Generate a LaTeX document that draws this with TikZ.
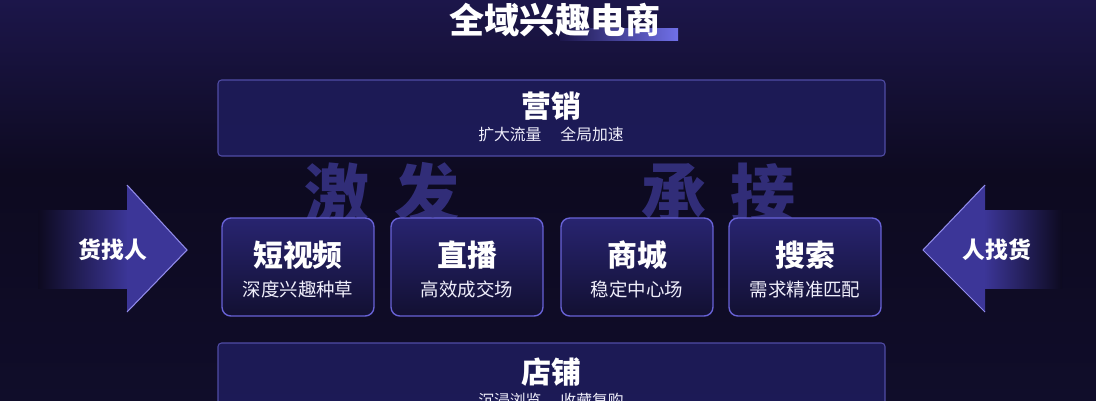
\documentclass[tikz,border=0pt]{standalone}
\usepackage{fontspec}
\setmainfont{Noto Sans CJK SC}
\usetikzlibrary{positioning}
\definecolor{bgtop}{RGB}{28,22,74}
\definecolor{bgmid}{RGB}{13,10,32}
\definecolor{bgbot}{RGB}{16,13,42}
\definecolor{boxfill}{RGB}{28,26,86}
\definecolor{boxline}{RGB}{80,76,165}
\definecolor{cardtop}{RGB}{40,36,112}
\definecolor{cardbot}{RGB}{18,16,50}
\definecolor{cardline}{RGB}{104,98,214}
\definecolor{arrowfill}{RGB}{60,54,152}
\definecolor{arrowline}{RGB}{146,140,235}
\definecolor{markcol}{RGB}{62,58,150}
\definecolor{barend}{RGB}{112,112,232}
\tikzset{
	bigbox/.style={draw=boxline,line width=0.6pt,rounded corners=2pt,top color=boxfill!90!bgtop,bottom color=boxfill},
	card/.style={draw=cardline,line width=0.8pt,rounded corners=5pt,top color=cardtop,bottom color=cardbot,minimum width=3.04cm,minimum height=1.96cm,inner sep=0pt},
	headtxt/.style={text=white,font=\bfseries\fontsize{17}{17}\selectfont,inner sep=0pt},
	subtxt/.style={text=white!90!cardline,font=\fontsize{9}{9}\selectfont,inner sep=0pt},
	cardsub/.style={text=white!90!cardline,font=\fontsize{10.5}{10.5}\selectfont,inner sep=0pt},
	arrowtxt/.style={text=white,font=\bfseries\fontsize{13}{13}\selectfont,inner sep=0pt},
	marktxt/.style={text=markcol,opacity=0.75,font=\bfseries\fontsize{37}{37}\selectfont,inner sep=0pt}
}
\begin{document}
\begin{tikzpicture}[x=0.02cm,y=-0.02cm]
		\useasboundingbox (0,0) rectangle (1096,400);
		% background
		\shade[top color=bgtop,bottom color=bgmid] (0,0) rectangle (1096,175);
		\shade[top color=bgmid,bottom color=bgbot] (0,175) rectangle (1096,400);
		% title with bar
		\shade[left color=bgtop,right color=barend] (560,28) rectangle (678,40);
		\node[text=white,font=\bfseries\fontsize{20}{20}\selectfont,inner sep=0pt] (title) at (555,20) {全域兴趣电商};
		% watermark
		\foreach \ch/\px in {激/337,发/427,承/674,接/763}
		\node[marktxt] at (\px,194) {\ch};
		% marketing and shop boxes
		\draw[bigbox] (218,80) rectangle (885,156);
		\node[headtxt] (yx) at (551,106) {营销};
		\node[subtxt] (yxsub) at (551,134) {扩大流量\hspace{1.2em}全局加速};
		\draw[bigbox] (218,343) rectangle (885,430);
		\node[headtxt] (dp) at (551,372) {店铺};
		\node[subtxt] (dpsub) at (551,400) {沉浸浏览\hspace{1.2em}收藏复购};
		% four channel cards
		\foreach \nm/\px/\hd/\sb in {dsp/298/短视频/深度兴趣种草,zb/467/直播/高效成交场,sc/637/商城/稳定中心场,ss/805/搜索/需求精准匹配}{
		\node[card] (\nm) at (\px,267) {};
		\node[headtxt] (\nm head) at (\px,255) {\hd};
		\node[cardsub] (\nm sub) at (\px,289) {\sb};
		}
		% left arrow
		\shade[left color=bgmid,right color=arrowfill] (38,210) rectangle (128,288);
		\fill[arrowfill] (127,185)--(187,250)--(127,312)--cycle;
		\draw[arrowline,line width=0.6pt] (127,185)--(187,250)--(127,312);
		\node[arrowtxt] (hzr) at (113,250) {货找人};
		% right arrow
		\shade[left color=arrowfill,right color=bgmid] (984,210) rectangle (1062,288);
		\fill[arrowfill] (985,185)--(923,250)--(985,312)--cycle;
		\draw[arrowline,line width=0.6pt] (985,185)--(923,250)--(985,312);
		\node[arrowtxt] (rzh) at (997,250) {人找货};
\end{tikzpicture}
\end{document}
